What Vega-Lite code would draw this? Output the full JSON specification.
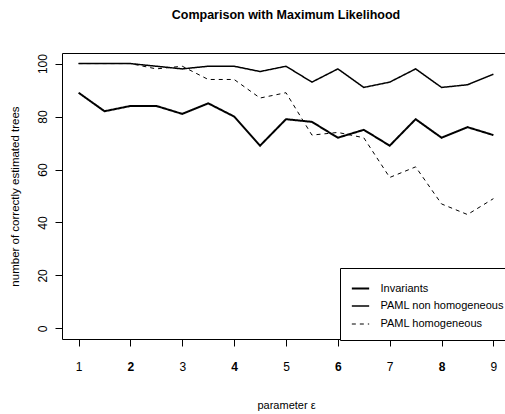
{
  "$schema": "https://vega.github.io/schema/vega-lite/v6.json",
  "width": 448,
  "height": 286,
  "autosize": {"type": "none"},
  "padding": {"left": 62, "top": 53, "right": 0, "bottom": 75},
  "background": "white",
  "title": {
    "text": "Comparison with Maximum Likelihood",
    "font": "Liberation Sans",
    "fontSize": 12.5,
    "fontWeight": "bold",
    "anchor": "middle",
    "offset": 32,
    "color": "black"
  },
  "config": {
    "view": {"stroke": "black", "strokeWidth": 1},
    "axis": {"labelFont": "Liberation Sans", "titleFont": "Liberation Sans", "labelColor": "black", "titleColor": "black", "tickColor": "black", "grid": false, "domain": false, "titleFontWeight": "normal"}
  },
  "data": {"values": [
    {"x": 1, "series": "Invariants", "value": 89},
    {"x": 1.5, "series": "Invariants", "value": 82},
    {"x": 2, "series": "Invariants", "value": 84},
    {"x": 2.5, "series": "Invariants", "value": 84},
    {"x": 3, "series": "Invariants", "value": 81},
    {"x": 3.5, "series": "Invariants", "value": 85},
    {"x": 4, "series": "Invariants", "value": 80},
    {"x": 4.5, "series": "Invariants", "value": 69},
    {"x": 5, "series": "Invariants", "value": 79},
    {"x": 5.5, "series": "Invariants", "value": 78},
    {"x": 6, "series": "Invariants", "value": 72},
    {"x": 6.5, "series": "Invariants", "value": 75},
    {"x": 7, "series": "Invariants", "value": 69},
    {"x": 7.5, "series": "Invariants", "value": 79},
    {"x": 8, "series": "Invariants", "value": 72},
    {"x": 8.5, "series": "Invariants", "value": 76},
    {"x": 9, "series": "Invariants", "value": 73},
    {"x": 1, "series": "PAML non homogeneous", "value": 100},
    {"x": 1.5, "series": "PAML non homogeneous", "value": 100},
    {"x": 2, "series": "PAML non homogeneous", "value": 100},
    {"x": 2.5, "series": "PAML non homogeneous", "value": 99},
    {"x": 3, "series": "PAML non homogeneous", "value": 98},
    {"x": 3.5, "series": "PAML non homogeneous", "value": 99},
    {"x": 4, "series": "PAML non homogeneous", "value": 99},
    {"x": 4.5, "series": "PAML non homogeneous", "value": 97},
    {"x": 5, "series": "PAML non homogeneous", "value": 99},
    {"x": 5.5, "series": "PAML non homogeneous", "value": 93},
    {"x": 6, "series": "PAML non homogeneous", "value": 98},
    {"x": 6.5, "series": "PAML non homogeneous", "value": 91},
    {"x": 7, "series": "PAML non homogeneous", "value": 93},
    {"x": 7.5, "series": "PAML non homogeneous", "value": 98},
    {"x": 8, "series": "PAML non homogeneous", "value": 91},
    {"x": 8.5, "series": "PAML non homogeneous", "value": 92},
    {"x": 9, "series": "PAML non homogeneous", "value": 96},
    {"x": 1, "series": "PAML homogeneous", "value": 100},
    {"x": 1.5, "series": "PAML homogeneous", "value": 100},
    {"x": 2, "series": "PAML homogeneous", "value": 100},
    {"x": 2.5, "series": "PAML homogeneous", "value": 98},
    {"x": 3, "series": "PAML homogeneous", "value": 99},
    {"x": 3.5, "series": "PAML homogeneous", "value": 94},
    {"x": 4, "series": "PAML homogeneous", "value": 94},
    {"x": 4.5, "series": "PAML homogeneous", "value": 87},
    {"x": 5, "series": "PAML homogeneous", "value": 89},
    {"x": 5.5, "series": "PAML homogeneous", "value": 73},
    {"x": 6, "series": "PAML homogeneous", "value": 74},
    {"x": 6.5, "series": "PAML homogeneous", "value": 72},
    {"x": 7, "series": "PAML homogeneous", "value": 57},
    {"x": 7.5, "series": "PAML homogeneous", "value": 61},
    {"x": 8, "series": "PAML homogeneous", "value": 47},
    {"x": 8.5, "series": "PAML homogeneous", "value": 43},
    {"x": 9, "series": "PAML homogeneous", "value": 49}
  ]},
  "mark": {"type": "line", "color": "black", "clip": true},
  "encoding": {
    "x": {
      "field": "x", "type": "quantitative",
      "scale": {"domain": [0.68, 9.32], "nice": false, "zero": false},
      "axis": {
        "title": "parameter ε",
        "values": [1, 2, 3, 4, 5, 6, 7, 8, 9],
        "tickSize": 7,
        "labelFontSize": 12,
        "labelFontWeight": {"condition": {"test": "datum.value % 2 == 0", "value": "bold"}, "value": "normal"},
        "labelPadding": 15,
        "titleFontSize": 11,
        "titlePadding": 27
      }
    },
    "y": {
      "field": "value", "type": "quantitative",
      "scale": {"domain": [-4, 104], "nice": false, "zero": false},
      "axis": {
        "title": "number of correctly estimated trees",
        "values": [0, 20, 40, 60, 80, 100],
        "tickSize": 7,
        "labelAngle": 270,
        "labelFontSize": 12,
        "labelPadding": 6,
        "titleFontSize": 11.5,
        "titlePadding": 16
      }
    },
    "detail": {"field": "series"},
    "strokeDash": {
      "field": "series", "type": "nominal",
      "scale": {"domain": ["Invariants", "PAML non homogeneous", "PAML homogeneous"], "range": [[1, 0], [1, 0], [4, 4]]},
      "legend": {"title": null, "orient": "none", "legendX": 278, "legendY": 215, "strokeColor": "black", "padding": 10.5, "symbolType": "stroke", "symbolStrokeColor": "black", "symbolSize": 300, "labelFont": "Liberation Sans", "labelFontSize": 11, "labelColor": "black", "labelOffset": 10, "rowPadding": 3, "fillColor": "white", "cornerRadius": 0}
    },
    "strokeWidth": {
      "field": "series", "type": "nominal",
      "scale": {"domain": ["Invariants", "PAML non homogeneous", "PAML homogeneous"], "range": [2, 1, 1]},
      "legend": {"title": null, "orient": "none", "legendX": 278, "legendY": 215, "strokeColor": "black", "padding": 10.5, "symbolType": "stroke", "symbolStrokeColor": "black", "symbolSize": 300, "labelFont": "Liberation Sans", "labelFontSize": 11, "labelColor": "black", "labelOffset": 10, "rowPadding": 3, "fillColor": "white", "cornerRadius": 0}
    }
  }
}
